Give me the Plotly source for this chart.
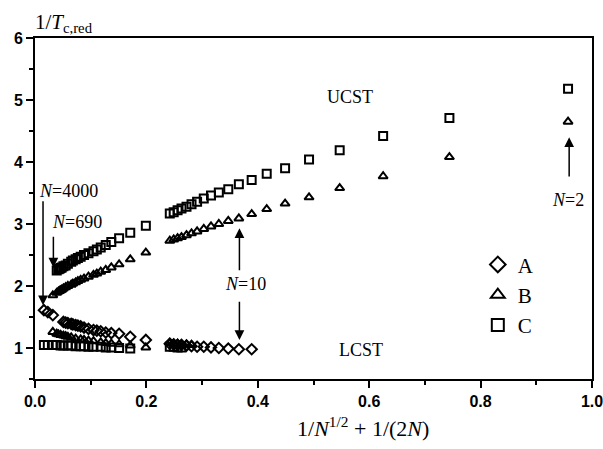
import plotly.graph_objects as go

# ---- data ----
# x = 1/N^(1/2) + 1/(2N), y = 1/T_c,red
A_x = [0.016, 0.023, 0.032, 0.051, 0.055, 0.059, 0.065, 0.068, 0.073, 0.077, 0.082, 0.088,
       0.096, 0.105, 0.111, 0.118, 0.127, 0.137, 0.151, 0.171, 0.199,
       0.242, 0.249, 0.256, 0.263, 0.272, 0.281, 0.291, 0.303, 0.316, 0.330, 0.347, 0.366, 0.389]
A_y = [1.61, 1.58, 1.53, 1.42, 1.41, 1.40, 1.39, 1.38, 1.37, 1.36, 1.35, 1.33,
       1.31, 1.29, 1.28, 1.27, 1.25, 1.24, 1.23, 1.18, 1.13,
       1.07, 1.06, 1.05, 1.05, 1.04, 1.03, 1.02, 1.02, 1.01, 1.00, 0.99, 0.98, 0.98]

B_x = [0.957, 0.744, 0.625, 0.547, 0.492, 0.449, 0.416, 0.389, 0.366, 0.347, 0.330, 0.316,
       0.303, 0.291, 0.281, 0.272, 0.263, 0.256, 0.249, 0.242,
       0.199, 0.171, 0.151, 0.137, 0.127, 0.118, 0.111, 0.105, 0.096, 0.088, 0.082, 0.077,
       0.073, 0.068, 0.065, 0.059, 0.055, 0.051, 0.048, 0.046, 0.044, 0.042, 0.039, 0.032,
       0.032, 0.039, 0.042, 0.046, 0.051, 0.055, 0.059, 0.065, 0.073, 0.082, 0.088, 0.096,
       0.105, 0.118, 0.127, 0.137, 0.151, 0.171, 0.199,
       0.242, 0.249, 0.256, 0.263, 0.272, 0.281]
B_y = [4.65, 4.08, 3.77, 3.58, 3.43, 3.33, 3.24, 3.16, 3.09, 3.05, 3.00, 2.96,
       2.92, 2.88, 2.85, 2.82, 2.79, 2.77, 2.75, 2.73,
       2.54, 2.43, 2.35, 2.30, 2.26, 2.23, 2.20, 2.18, 2.15, 2.12, 2.10, 2.08,
       2.06, 2.04, 2.02, 2.00, 1.98, 1.96, 1.94, 1.93, 1.92, 1.91, 1.89, 1.85,
       1.26, 1.23, 1.22, 1.21, 1.20, 1.19, 1.18, 1.17, 1.15, 1.14, 1.13, 1.12,
       1.11, 1.09, 1.08, 1.07, 1.06, 1.04, 1.01,
       1.08, 1.07, 1.07, 1.06, 1.06, 1.05]

C_x = [0.957, 0.744, 0.625, 0.547, 0.492, 0.449, 0.416, 0.389, 0.366, 0.347, 0.330, 0.316,
       0.303, 0.291, 0.281, 0.272, 0.263, 0.256, 0.249, 0.242,
       0.199, 0.171, 0.151, 0.137, 0.127, 0.118, 0.111, 0.105, 0.096, 0.088, 0.082, 0.077,
       0.073, 0.068, 0.065, 0.059, 0.055, 0.051, 0.048, 0.046, 0.044, 0.042, 0.039,
       0.016, 0.023, 0.032, 0.039, 0.046, 0.051, 0.059, 0.065, 0.073, 0.082, 0.088, 0.096,
       0.105, 0.118, 0.127, 0.137, 0.151, 0.171,
       0.242, 0.249, 0.256, 0.263]
C_y = [5.18, 4.71, 4.42, 4.19, 4.04, 3.90, 3.81, 3.71, 3.64, 3.56, 3.51, 3.46,
       3.41, 3.36, 3.32, 3.28, 3.25, 3.22, 3.19, 3.17,
       2.97, 2.86, 2.77, 2.71, 2.66, 2.62, 2.59, 2.56, 2.53, 2.50, 2.47, 2.45,
       2.43, 2.41, 2.39, 2.36, 2.33, 2.32, 2.30, 2.29, 2.28, 2.27, 2.25,
       1.05, 1.05, 1.05, 1.05, 1.04, 1.04, 1.04, 1.04, 1.03, 1.03, 1.03, 1.02,
       1.02, 1.02, 1.01, 1.01, 1.00, 0.99,
       1.02, 1.02, 1.01, 1.01]

series_names = ["A", "B", "C"]
series_symbols = ["diamond-open", "triangle-up-open", "square-open"]

SERIF = "Liberation Serif, Times New Roman, serif"
SANS = "Liberation Sans, Arial, sans-serif"

fig = go.Figure()
for name, xs, ys, sym in zip(series_names, [A_x, B_x, C_x], [A_y, B_y, C_y], series_symbols):
    fig.add_trace(go.Scatter(
        x=xs, y=ys, mode="markers", name=name,
        marker=dict(symbol=sym, size=8, color="black", line=dict(color="black", width=2)),
    ))

axis_common = dict(
    showline=True, linecolor="black", linewidth=2, mirror=True,
    ticks="outside", ticklen=7, tickwidth=1.5, tickcolor="black",
    showgrid=False, zeroline=False, automargin=False,
    ticklabeloverflow="allow",
    tickfont=dict(family=SANS, size=16, color="black", weight="bold"),
)

fig.update_xaxes(range=[0, 1.0], dtick=0.2, tick0=0, tickformat=".1f",
                 minor=dict(dtick=0.1, ticks="outside", ticklen=4, tickwidth=1.5, tickcolor="black"),
                 **axis_common)
fig.update_yaxes(range=[0.5, 6], dtick=1, tick0=0,
                 minor=dict(dtick=0.5, ticks="outside", ticklen=4, tickwidth=1.5, tickcolor="black"),
                 **axis_common)

ann = []
# axis titles
ann.append(dict(text="1/<i>T</i><sub>c,red</sub>", xref="paper", yref="paper",
                x=-0.004, y=1.045, xanchor="left", yanchor="middle", showarrow=False,
                font=dict(family=SERIF, size=21, color="black")))
ann.append(dict(text="1/<i>N</i><sup>1/2</sup> + 1/(2<i>N</i>)", xref="paper", yref="paper",
                x=0.589, y=-0.141, xanchor="center", yanchor="middle", showarrow=False,
                font=dict(family=SERIF, size=22, color="black")))
# region labels
ann.append(dict(text="UCST", x=0.565, y=5.05, xref="x", yref="y", showarrow=False,
                font=dict(family=SERIF, size=18, color="black")))
ann.append(dict(text="LCST", x=0.585, y=0.96, xref="x", yref="y", showarrow=False,
                font=dict(family=SERIF, size=18, color="black")))
# N labels
lab_font = dict(family=SERIF, size=18, color="black")
ann.append(dict(text="<i>N</i>=4000", x=0.061, y=3.53, xref="x", yref="y", showarrow=False, font=lab_font))
ann.append(dict(text="<i>N</i>=690", x=0.0755, y=3.03, xref="x", yref="y", showarrow=False, font=lab_font))
ann.append(dict(text="<i>N</i>=10", x=0.378, y=2.03, xref="x", yref="y", showarrow=False, font=lab_font))
ann.append(dict(text="<i>N</i>=2", x=0.957, y=3.39, xref="x", yref="y", showarrow=False, font=lab_font))

# arrows (tip at x,y ; tail at ax,ay)
arrows = [
    (0.0144, 1.69, 0.0144, 3.39),
    (0.033, 2.30, 0.033, 2.82),
    (0.367, 2.93, 0.367, 2.23),
    (0.367, 1.13, 0.367, 1.77),
    (0.959, 4.40, 0.959, 3.74),
]
for (x, y, axx, ayy) in arrows:
    ann.append(dict(text="", x=x, y=y, ax=axx, ay=ayy, xref="x", yref="y",
                    axref="x", ayref="y", showarrow=True, arrowhead=2,
                    arrowsize=1.3, arrowwidth=1.5, arrowcolor="black"))

fig.update_layout(
    width=603, height=449,
    margin=dict(l=35, r=11, t=38, b=70),
    paper_bgcolor="white", plot_bgcolor="white",
    annotations=ann,
    showlegend=True,
    legend=dict(x=0.795, y=0.395, xanchor="left", yanchor="top",
                bgcolor="rgba(0,0,0,0)", borderwidth=0,
                font=dict(family=SERIF, size=21, color="black"),
                tracegroupgap=0, itemsizing="constant"),
)

fig.write_html("out.html")
